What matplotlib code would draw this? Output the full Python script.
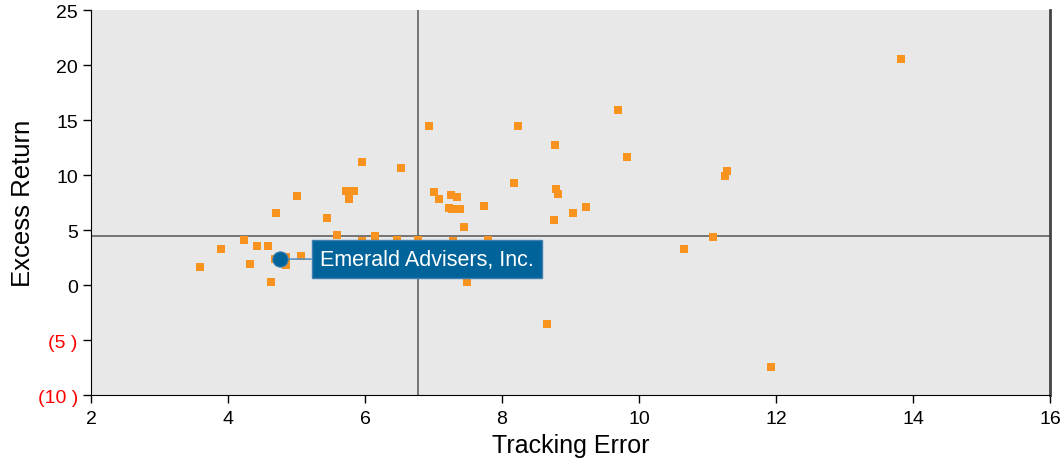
import matplotlib
matplotlib.use("Agg")
import matplotlib.pyplot as plt

plt.rcParams['font.family'] = ['Liberation Sans', 'DejaVu Sans']

# Peer universe: tracking error (x) and excess return (y)
tracking_error = [3.59, 3.90, 4.23, 4.32, 4.42, 4.58, 4.63, 4.70, 4.69, 4.85,
                  4.85, 5.06, 5.01, 5.45, 5.59, 5.96, 6.53, 5.72, 5.84, 5.77,
                  5.96, 6.15, 6.46, 6.78, 6.66, 7.00, 7.08, 7.25, 7.34, 7.23,
                  7.27, 7.29, 6.94, 8.24, 8.17, 7.39, 7.74, 7.44, 7.79, 7.49,
                  9.70, 8.78, 9.83, 8.79, 8.82, 9.23, 9.03, 8.76, 11.29, 11.25,
                  11.08, 10.66, 13.83, 11.92, 8.65, 6.39]
excess_return = [1.64, 3.27, 4.09, 1.91, 3.55, 3.55, 0.27, 6.55, 2.36, 2.52,
                 1.79, 2.60, 8.06, 6.06, 4.52, 11.15, 10.60, 8.52, 8.52, 7.79,
                 3.97, 4.43, 4.12, 4.12, 3.73, 8.42, 7.79, 8.15, 7.97, 6.97,
                 6.88, 3.97, 14.42, 14.42, 9.24, 6.88, 7.15, 5.24, 4.12, 0.24,
                 15.88, 12.70, 11.60, 8.70, 8.24, 7.06, 6.52, 5.88, 10.33, 9.88,
                 4.33, 3.24, 20.52, -7.48, -3.58, 1.15]

manager_name = "Emerald Advisers, Inc."
manager_te = 4.76
manager_er = 2.36

median_te = 6.78
median_er = 4.5

x_ticks = [2, 4, 6, 8, 10, 12, 14, 16]
y_ticks = [25, 20, 15, 10, 5, 0, -5, -10]
y_tick_labels = ["25", "20", "15", "10", "5", "0", "(5 )", "(10 )"]

fig = plt.figure(figsize=(10.63, 4.60), dpi=100)
ax = fig.add_axes([0.0856, 0.139, 0.9022, 0.837])
ax.set_facecolor('#e8e8e8')

ax.scatter(tracking_error, excess_return, marker='s', s=28, color='#F7931E',
           linewidths=0, zorder=3)

ax.axvline(median_te, color='#6b6b6b', lw=1.3, zorder=2)
ax.axhline(median_er, color='#6b6b6b', lw=1.3, zorder=2)

ax.annotate(manager_name, xy=(manager_te, manager_er), xytext=(5.34, manager_er),
            ha='left', va='center', color='white', fontsize=15.5,
            bbox=dict(boxstyle='square,pad=0.38', fc='#00639A', ec='#3f7fb0', lw=1),
            arrowprops=dict(arrowstyle='-', color='#5f93bd', lw=1.2,
                            shrinkA=0, shrinkB=0),
            zorder=5)
ax.plot([manager_te], [manager_er], 'o', ms=11, color='#00639A',
        markeredgecolor='#3f7fb0', markeredgewidth=0.8, zorder=6)

ax.set_xlim(2, 16)
ax.set_ylim(-10, 25)
ax.set_xticks(x_ticks)
ax.set_yticks(y_ticks)
ax.set_yticklabels(y_tick_labels)
ax.tick_params(axis='both', labelsize=14, length=6, width=1, direction='out',
               colors='black')
ax.tick_params(axis='x', pad=5)
for lbl, v in zip(ax.get_yticklabels(), y_ticks):
    lbl.set_color('red' if v < 0 else 'black')

ax.set_xlabel('Tracking Error', fontsize=18, labelpad=4)
ax.set_ylabel('Excess Return', fontsize=18.5, labelpad=2)

ax.spines['left'].set_color('black')
ax.spines['bottom'].set_color('black')
ax.spines['right'].set_color('#444444')
ax.spines['right'].set_linewidth(2)
ax.spines['top'].set_visible(False)

fig.savefig('out.png', dpi=100)
